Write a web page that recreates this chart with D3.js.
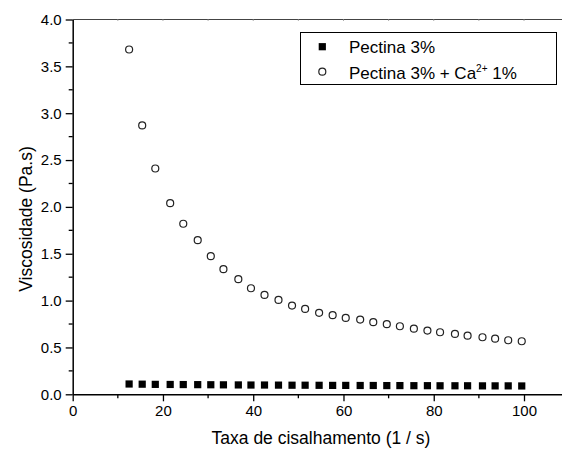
<!DOCTYPE html>
<meta charset="utf-8">
<script src="https://cdn.jsdelivr.net/npm/d3@7"></script>
<head>
<style>
    body { margin: 0; background: #fff; }
    text { font-family: "Liberation Sans", Arial, sans-serif; fill: #000; }
</style>
</head>

<body>

<script>

    // shear rate (1/s)
    var shearRate = [12.5, 15.4, 18.3, 21.6, 24.5, 27.7, 30.6, 33.4, 36.7, 39.5,
                     42.5, 45.6, 48.6, 51.5, 54.6, 57.6, 60.5, 63.7, 66.6, 69.6,
                     72.5, 75.6, 78.6, 81.4, 84.7, 87.5, 90.8, 93.6, 96.5, 99.5];

    // viscosity (Pa.s)
    var pectina = [0.110, 0.108, 0.106, 0.105, 0.104, 0.103, 0.102, 0.101, 0.100, 0.099,
                   0.099, 0.098, 0.097, 0.097, 0.096, 0.095, 0.095, 0.094, 0.094, 0.093,
                   0.093, 0.092, 0.092, 0.091, 0.091, 0.091, 0.090, 0.090, 0.090, 0.089];

    var pectinaCa = [3.68, 2.87, 2.41, 2.04, 1.82, 1.645, 1.474, 1.335, 1.229, 1.132,
                     1.061, 1.007, 0.947, 0.911, 0.869, 0.844, 0.815, 0.797, 0.770, 0.748,
                     0.726, 0.700, 0.680, 0.662, 0.644, 0.626, 0.609, 0.594, 0.577, 0.566];

    var xTicks = [0, 20, 40, 60, 80, 100];
    var xMinor = [10, 30, 50, 70, 90, 110];
    var yTicks = [0, 0.5, 1.0, 1.5, 2.0, 2.5, 3.0, 3.5, 4.0];
    var yMinor = [0.25, 0.75, 1.25, 1.75, 2.25, 2.75, 3.25, 3.75];

    var svgWidth = 562;
    var svgHeight = 450;

    // note: "top" is reserved on window, so plot* names
    var plotLeft = 72.7, plotTop = 19.5, plotBottom = 394.3;
    var pxPerX = 4.513;

    var x = d3.scaleLinear().domain([0, 110]).range([plotLeft, plotLeft + 110*pxPerX]);
    var y = d3.scaleLinear().domain([0, 4]).range([plotBottom, plotTop]);

    var svg = d3.select("body").append("svg")
        .attr("width", svgWidth)
        .attr("height", svgHeight);

    // top frame line with tiny ticks
    svg.append("line")
        .attr("x1", plotLeft).attr("x2", svgWidth)
        .attr("y1", plotTop).attr("y2", plotTop)
        .style("stroke", "#444")
        .style("stroke-width", 1.2);

    svg.selectAll(".topTick")
        .data(xTicks.concat(xMinor))
        .enter().append("line")
        .attr("class", "topTick")
        .attr("x1", function(d) { return x(d); })
        .attr("x2", function(d) { return x(d); })
        .attr("y1", plotTop).attr("y2", plotTop + 1.5)
        .style("stroke", "#aaa")
        .style("stroke-width", 1);

    // x axis
    var xAxis = svg.append("g")
        .attr("transform", "translate(0," + plotBottom + ")")
        .call(d3.axisBottom(x).tickValues(xTicks).tickSize(7).tickSizeOuter(0).tickFormat(d3.format("d")));

    xAxis.selectAll(".minor")
        .data(xMinor)
        .enter().append("line")
        .attr("class", "minor")
        .attr("x1", function(d) { return x(d); })
        .attr("x2", function(d) { return x(d); })
        .attr("y1", 0).attr("y2", 4)
        .style("stroke", "#000")
        .style("stroke-width", 1.3);

    // y axis
    var yAxis = svg.append("g")
        .attr("transform", "translate(" + plotLeft + ",0)")
        .call(d3.axisLeft(y).tickValues(yTicks).tickSize(7).tickSizeOuter(0).tickFormat(d3.format(".1f")));

    yAxis.selectAll(".minor")
        .data(yMinor)
        .enter().append("line")
        .attr("class", "minor")
        .attr("x1", 0).attr("x2", -4)
        .attr("y1", function(d) { return y(d); })
        .attr("y2", function(d) { return y(d); })
        .style("stroke", "#000")
        .style("stroke-width", 1.3);

    svg.selectAll(".domain")
        .style("stroke", "#000")
        .style("stroke-width", 1.5);
    svg.selectAll(".tick line")
        .style("stroke", "#000")
        .style("stroke-width", 1.3);
    svg.selectAll(".tick text")
        .style("font-size", "15px")
        .style("font-family", "'Liberation Sans', Arial, sans-serif");
    xAxis.selectAll(".tick text").attr("y", 11);
    yAxis.selectAll(".tick text").attr("x", -11);

    // axis titles
    svg.append("text")
        .attr("x", 321)
        .attr("y", 444)
        .attr("text-anchor", "middle")
        .style("font-size", "17.5px")
        .text("Taxa de cisalhamento (1 / s)");

    svg.append("text")
        .attr("transform", "translate(32,219) rotate(-90)")
        .attr("text-anchor", "middle")
        .style("font-size", "17.5px")
        .text("Viscosidade (Pa.s)");

    // data
    svg.selectAll(".sq")
        .data(pectina)
        .enter().append("rect")
        .attr("class", "sq")
        .attr("x", function(d, i) { return x(shearRate[i]) - 3.6; })
        .attr("y", function(d) { return y(d) - 3.6; })
        .attr("width", 7.2)
        .attr("height", 7.2)
        .style("fill", "#000");

    svg.selectAll(".circ")
        .data(pectinaCa)
        .enter().append("circle")
        .attr("class", "circ")
        .attr("cx", function(d, i) { return x(shearRate[i]); })
        .attr("cy", function(d) { return y(d); })
        .attr("r", 3.5)
        .style("fill", "#fff")
        .style("stroke", "#222")
        .style("stroke-width", 1.2);

    // legend
    var legend = svg.append("g");

    legend.append("rect")
        .attr("x", 300.5)
        .attr("y", 32.5)
        .attr("width", 256)
        .attr("height", 52)
        .style("fill", "#fff")
        .style("stroke", "#000")
        .style("stroke-width", 1);

    legend.append("rect")
        .attr("x", 322.3 - 3.6)
        .attr("y", 46.7 - 3.6)
        .attr("width", 7.2)
        .attr("height", 7.2)
        .style("fill", "#000");

    legend.append("circle")
        .attr("cx", 322.3)
        .attr("cy", 71.7)
        .attr("r", 3.5)
        .style("fill", "#fff")
        .style("stroke", "#222")
        .style("stroke-width", 1.2);

    legend.append("text")
        .attr("x", 349)
        .attr("y", 53.3)
        .style("font-size", "17px")
        .text("Pectina 3%");

    var t2 = legend.append("text")
        .attr("x", 349)
        .attr("y", 79.3)
        .style("font-size", "17px");
    t2.append("tspan").text("Pectina 3% + Ca");
    t2.append("tspan")
        .attr("dy", -7)
        .style("font-size", "10px")
        .text("2+");
    t2.append("tspan")
        .attr("dy", 7)
        .text(" 1%");

</script>
</body>

</html>
